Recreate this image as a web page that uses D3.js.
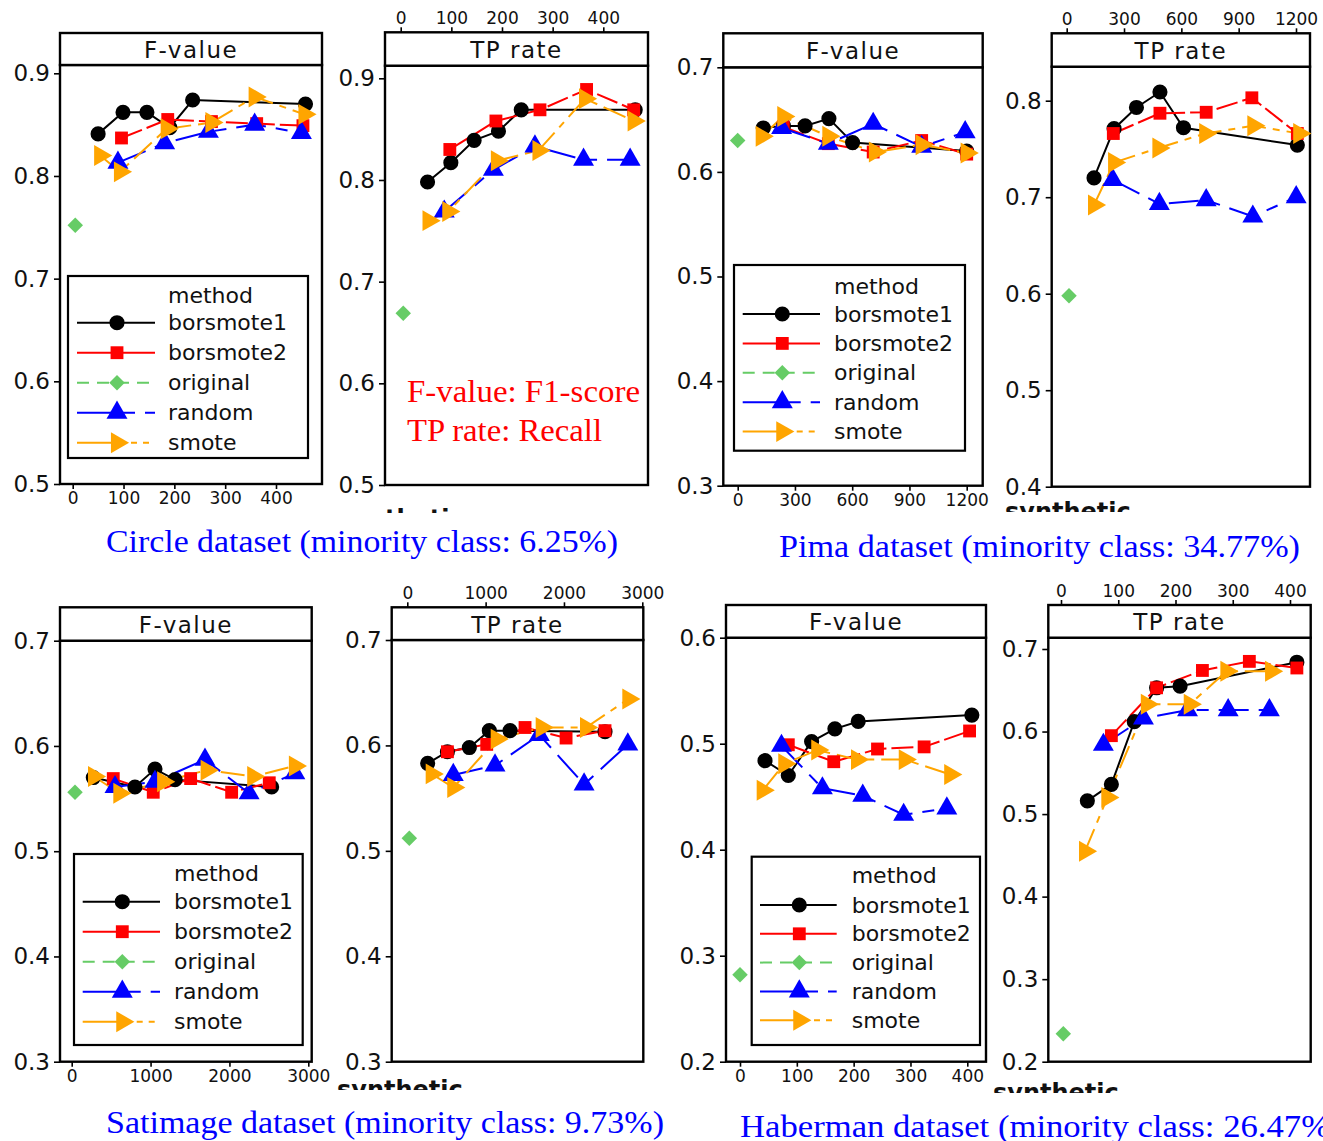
<!DOCTYPE html>
<html>
<head>
<meta charset="utf-8">
<script src="https://cdn.jsdelivr.net/npm/d3@7"></script>
<style>
  body { margin: 0; background: #fff; }
  svg { display: block; }
</style>
</head>
<body>
<div id="chart"></div>
<script>
// methods and colours
const methods = ["borsmote1", "borsmote2", "original", "random", "smote"];
const methodColors = ["#000000", "#ff0000", "#66cc66", "#0000ff", "#ffa500"];
const methodShapes = ["circle", "square", "diamond", "triangle", "right"];

// Circle dataset
const circleF = {
  borsmote1: [[50, 0.841], [99, 0.862], [146, 0.862], [191, 0.847], [236, 0.874], [458, 0.870]],
  borsmote2: [[96, 0.837], [187, 0.855], [273, 0.853], [362, 0.851], [453, 0.849]],
  original:  [[5, 0.752]],
  random:    [[89, 0.813], [181, 0.832], [267, 0.843], [358, 0.850], [450, 0.842]],
  smote:     [[54, 0.820], [93, 0.804], [185, 0.846], [273, 0.852], [358, 0.877], [456, 0.860]]
};
const circleTP = {
  borsmote1: [[53, 0.798], [99, 0.817], [145, 0.839], [193, 0.848], [238, 0.869], [463, 0.869]],
  borsmote2: [[97, 0.830], [188, 0.858], [275, 0.869], [367, 0.889], [460, 0.869]],
  original:  [[5, 0.669]],
  random:    [[86, 0.769], [183, 0.810], [265, 0.833], [361, 0.820], [453, 0.820]],
  smote:     [[55, 0.760], [94, 0.769], [190, 0.819], [272, 0.829], [364, 0.880], [460, 0.858]]
};

// Pima dataset
const pimaF = {
  borsmote1: [[134, 0.642], [240, 0.644], [353, 0.644], [478, 0.651], [602, 0.628], [1200, 0.620]],
  borsmote2: [[239, 0.643], [475, 0.627], [710, 0.619], [964, 0.630], [1200, 0.617]],
  original:  [[0, 0.630]],
  random:    [[230, 0.642], [475, 0.627], [710, 0.646], [964, 0.624], [1192, 0.638]],
  smote:     [[126, 0.634], [239, 0.653], [475, 0.634], [719, 0.619], [964, 0.626], [1200, 0.618]]
};
const pimaTP = {
  borsmote1: [[143, 0.720], [248, 0.771], [365, 0.793], [488, 0.809], [611, 0.772], [1207, 0.754]],
  borsmote2: [[244, 0.766], [488, 0.787], [730, 0.788], [969, 0.803], [1207, 0.766]],
  original:  [[12, 0.598]],
  random:    [[241, 0.718], [485, 0.693], [730, 0.697], [974, 0.680], [1201, 0.700]],
  smote:     [[143, 0.692], [248, 0.736], [480, 0.751], [725, 0.766], [977, 0.774], [1217, 0.766]]
};

// Satimage dataset
const satF = {
  borsmote1: [[274, 0.570], [802, 0.561], [1056, 0.578], [1310, 0.568], [2535, 0.561]],
  borsmote2: [[527, 0.569], [1034, 0.556], [1508, 0.569], [2028, 0.556], [2505, 0.565]],
  original:  [[42, 0.556]],
  random:    [[549, 0.561], [1056, 0.566], [1690, 0.587], [2250, 0.555], [2830, 0.574]],
  smote:     [[283, 0.571], [604, 0.555], [1160, 0.566], [1711, 0.577], [2302, 0.571], [2830, 0.581]]
};
const satTP = {
  borsmote1: [[260, 0.583], [512, 0.594], [792, 0.598], [1047, 0.614], [1312, 0.614], [2524, 0.613]],
  borsmote2: [[512, 0.594], [1014, 0.601], [1503, 0.617], [2027, 0.607], [2524, 0.614]],
  original:  [[26, 0.512]],
  random:    [[587, 0.572], [1120, 0.581], [1686, 0.610], [2257, 0.563], [2815, 0.601]],
  smote:     [[312, 0.573], [587, 0.560], [1142, 0.606], [1716, 0.617], [2282, 0.617], [2822, 0.644]]
};

// Haberman dataset
const habF = {
  borsmote1: [[44, 0.484], [85, 0.470], [126, 0.502], [167, 0.514], [208, 0.521], [408, 0.527]],
  borsmote2: [[85, 0.499], [165, 0.483], [242, 0.495], [324, 0.497], [404, 0.512]],
  original:  [[0, 0.282]],
  random:    [[73, 0.498], [145, 0.458], [216, 0.451], [288, 0.433], [364, 0.439]],
  smote:     [[40, 0.456], [78, 0.481], [136, 0.494], [206, 0.485], [290, 0.485], [370, 0.471]]
};
const habTP = {
  borsmote1: [[46, 0.516], [88, 0.536], [128, 0.612], [167, 0.653], [208, 0.655], [412, 0.684]],
  borsmote2: [[88, 0.595], [167, 0.653], [247, 0.674], [329, 0.685], [412, 0.677]],
  original:  [[4, 0.234]],
  random:    [[74, 0.584], [144, 0.616], [221, 0.626], [292, 0.626], [364, 0.626]],
  smote:     [[42, 0.455], [81, 0.520], [150, 0.633], [225, 0.633], [289, 0.673], [367, 0.673]]
};

// tick labels
const xTicks400 = [0, 100, 200, 300, 400];
const xTicks1200 = [0, 300, 600, 900, 1200];
const xTicks3000 = [0, 1000, 2000, 3000];
const yTicksCircle = [0.5, 0.6, 0.7, 0.8, 0.9];
const yTicksPimaF = [0.3, 0.4, 0.5, 0.6, 0.7];
const yTicksPimaTP = [0.4, 0.5, 0.6, 0.7, 0.8];
const yTicksSat = [0.3, 0.4, 0.5, 0.6, 0.7];
const yTicksHabF = [0.2, 0.3, 0.4, 0.5, 0.6];
const yTicksHabTP = [0.2, 0.3, 0.4, 0.5, 0.6, 0.7];

const captions = [
  "Circle dataset (minority class: 6.25%)",
  "Pima dataset (minority class: 34.77%)",
  "Satimage dataset (minority class: 9.73%)",
  "Haberman dataset (minority class: 26.47%"
];
const notes = ["F-value: F1-score", "TP rate: Recall"];

// line styles
const plotDash = ["", "22,5", "10,8", "30,10,12,10", "24,7,7,7"];
const legendDash = ["", "", "12,8", "36,10,12,10", "36,6,6,6,6,6,6,6"];

// panel layout (pixel positions)
const panels = [
  { data: circleF, label: "F-value", x0: 60, x1: 322, sTop: 33, sBot: 65, bot: 484,
    yTicks: yTicksCircle, yPx: [484, 73.3], xTicks: xTicks400, xPx: [72.7, 276], xTop: false,
    legend: { x0: 68, y0: 276, x1: 308, y1: 458, titleY: 295, rowY: 322.7, step: 30, k0: 77, k1: 155, m: 117, lx: 168 } },
  { data: circleTP, label: "TP rate", x0: 385, x1: 648, sTop: 32.3, sBot: 65.7, bot: 485,
    yTicks: yTicksCircle, yPx: [485, 78.3], xTicks: xTicks400, xPx: [400.7, 603.3], xTop: true },
  { data: pimaF, label: "F-value", x0: 723.3, x1: 982.7, sTop: 33.3, sBot: 67.3, bot: 485.7,
    yTicks: yTicksPimaF, yPx: [485.7, 67.3], xTicks: xTicks1200, xPx: [737.7, 966.7], xTop: false,
    legend: { x0: 734, y0: 265, x1: 965, y1: 450.7, titleY: 286.7, rowY: 314, step: 29.4, k0: 742.7, k1: 820, m: 782.3, lx: 834 } },
  { data: pimaTP, label: "TP rate", x0: 1051.7, x1: 1310, sTop: 33.3, sBot: 66.7, bot: 486.7,
    yTicks: yTicksPimaTP, yPx: [486.7, 100.7], xTicks: xTicks1200, xPx: [1066.7, 1296], xTop: true },
  { data: satF, label: "F-value", x0: 60, x1: 311.7, sTop: 607.3, sBot: 640.7, bot: 1061.7,
    yTicks: yTicksSat, yPx: [1061.7, 640.7], xTicks: xTicks3000, xPx: [71.7, 308.3], xTop: false,
    legend: { x0: 74, y0: 854, x1: 302.7, y1: 1045, titleY: 873.3, rowY: 901.7, step: 30, k0: 82.7, k1: 160, m: 122.3, lx: 174 } },
  { data: satTP, label: "TP rate", x0: 391.7, x1: 643.3, sTop: 607.3, sBot: 640, bot: 1061.7,
    yTicks: yTicksSat, yPx: [1061.7, 640], xTicks: xTicks3000, xPx: [407.3, 642.3], xTop: true },
  { data: habF, label: "F-value", x0: 726, x1: 986, sTop: 605, sBot: 637.7, bot: 1061.7,
    yTicks: yTicksHabF, yPx: [1061.7, 637.7], xTicks: xTicks400, xPx: [740, 967.3], xTop: false,
    legend: { x0: 751.7, y0: 856.7, x1: 980, y1: 1045, titleY: 875, rowY: 905, step: 28.8, k0: 760, k1: 836.7, m: 799.3, lx: 851.7 } },
  { data: habTP, label: "TP rate", x0: 1048.3, x1: 1310.7, sTop: 605, sBot: 637.7, bot: 1061.7,
    yTicks: yTicksHabTP, yPx: [1061.7, 649], xTicks: xTicks400, xPx: [1061, 1290], xTop: true }
];

const FONT = "'DejaVu Sans', Verdana, sans-serif";
const SERIF = "'Liberation Serif', 'DejaVu Serif', serif";

const svg = d3.select("#chart").append("svg")
  .attr("width", 1323)
  .attr("height", 1141);

svg.append("rect").attr("width", 1323).attr("height", 1141).attr("fill", "#fff");

// marker path by shape
function markerPath(shape) {
  if (shape === "circle") return d3.symbol(d3.symbolCircle, 180)();
  if (shape === "square") return d3.symbol(d3.symbolSquare, 165)();
  if (shape === "diamond") return d3.symbol(d3.symbolSquare, 120)();
  return d3.symbol(d3.symbolTriangle, 190)();
}
function markerRotate(shape) {
  if (shape === "diamond") return 45;
  if (shape === "right") return 90;
  return 0;
}

function drawMarker(g, shape, color, cx, cy) {
  g.append("path")
    .attr("d", markerPath(shape))
    .attr("transform", `translate(${cx},${cy}) rotate(${markerRotate(shape)})`)
    .attr("fill", color);
}

function drawPanel(p) {
  const x = d3.scaleLinear().domain([p.xTicks[0], p.xTicks[p.xTicks.length - 1]]).range(p.xPx);
  const y = d3.scaleLinear().domain([p.yTicks[0], p.yTicks[p.yTicks.length - 1]]).range(p.yPx);
  const g = svg.append("g");

  // 축
  const yAxis = d3.axisLeft(y).tickValues(p.yTicks).tickSize(6).tickPadding(4).tickFormat(d3.format(".1f"));
  const ya = g.append("g").attr("transform", `translate(${p.x0},0)`).call(yAxis);
  ya.select(".domain").remove();
  ya.selectAll("line").attr("stroke-width", 1.6);
  ya.selectAll("text").attr("font-family", FONT).attr("font-size", 23).attr("fill", "#111");

  const xAxis = (p.xTop ? d3.axisTop(x) : d3.axisBottom(x))
    .tickValues(p.xTicks).tickSize(5).tickPadding(3).tickFormat(d3.format("d"));
  const xa = g.append("g")
    .attr("transform", `translate(0,${p.xTop ? p.sTop : p.bot})`)
    .call(xAxis);
  xa.select(".domain").remove();
  xa.selectAll("line").attr("stroke-width", 1.6);
  xa.selectAll("text").attr("font-family", FONT).attr("font-size", 17).attr("fill", "#111");

  // 패널 테두리와 스트립
  g.append("rect")
    .attr("x", p.x0).attr("y", p.sBot)
    .attr("width", p.x1 - p.x0).attr("height", p.bot - p.sBot)
    .attr("fill", "none").attr("stroke", "#000").attr("stroke-width", 2.4);
  g.append("rect")
    .attr("x", p.x0).attr("y", p.sTop)
    .attr("width", p.x1 - p.x0).attr("height", p.sBot - p.sTop)
    .attr("fill", "#fff").attr("stroke", "#000").attr("stroke-width", 2.4);
  g.append("text")
    .attr("x", (p.x0 + p.x1) / 2).attr("y", (p.sTop + p.sBot) / 2 + 1)
    .attr("text-anchor", "middle").attr("dominant-baseline", "central")
    .attr("font-family", FONT).attr("font-size", 23).attr("letter-spacing", 1.5)
    .attr("fill", "#111")
    .text(p.label);

  // 선
  const line = d3.line().x(d => x(d[0])).y(d => y(d[1]));
  methods.forEach((m, i) => {
    const pts = p.data[m];
    if (pts.length < 2) return;
    g.append("path")
      .attr("d", line(pts))
      .attr("fill", "none")
      .attr("stroke", methodColors[i])
      .attr("stroke-width", 2)
      .attr("stroke-dasharray", plotDash[i] || null);
  });

  // 점
  methods.forEach((m, i) => {
    p.data[m].forEach(d => drawMarker(g, methodShapes[i], methodColors[i], x(d[0]), y(d[1])));
  });

  // 범례
  if (p.legend) {
    const L = p.legend;
    g.append("rect")
      .attr("x", L.x0).attr("y", L.y0)
      .attr("width", L.x1 - L.x0).attr("height", L.y1 - L.y0)
      .attr("fill", "#fff").attr("stroke", "#000").attr("stroke-width", 2.2);
    g.append("text")
      .attr("x", L.lx).attr("y", L.titleY)
      .attr("dominant-baseline", "central")
      .attr("font-family", FONT).attr("font-size", 22).attr("fill", "#111")
      .text("method");
    methods.forEach((m, i) => {
      const ry = L.rowY + i * L.step;
      g.append("line")
        .attr("x1", L.k0).attr("x2", L.k1).attr("y1", ry).attr("y2", ry)
        .attr("stroke", methodColors[i]).attr("stroke-width", 2)
        .attr("stroke-dasharray", legendDash[i] || null);
      drawMarker(g, methodShapes[i], methodColors[i], L.m, ry);
      g.append("text")
        .attr("x", L.lx).attr("y", ry)
        .attr("dominant-baseline", "central")
        .attr("font-family", FONT).attr("font-size", 22).attr("fill", "#111")
        .text(m);
    });
  }
}

panels.forEach(drawPanel);

// 주석 (빨간 글씨)
const noteWidths = [233, 195];
notes.forEach((t, i) => {
  svg.append("text")
    .attr("x", 407).attr("y", 391 + i * 39)
    .attr("dominant-baseline", "central")
    .attr("font-family", SERIF).attr("font-size", 32).attr("fill", "#ff0000")
    .attr("textLength", noteWidths[i]).attr("lengthAdjust", "spacingAndGlyphs")
    .text(t);
});

// 잘린 "synthetic" 조각
const clipSpots = [
  { x: 338, base: 527, cut: 513 },
  { x: 1005, base: 520, cut: 512 },
  { x: 337, base: 1098, cut: 1090 },
  { x: 993, base: 1101, cut: 1093 }
];
clipSpots.forEach((c, i) => {
  svg.append("clipPath").attr("id", "cut" + i)
    .append("rect").attr("x", c.x - 5).attr("y", c.cut - 30).attr("width", 160).attr("height", 30);
  svg.append("text")
    .attr("clip-path", `url(#cut${i})`)
    .attr("x", c.x).attr("y", c.base)
    .attr("font-family", FONT).attr("font-weight", "bold").attr("font-size", 24).attr("fill", "#111")
    .text("synthetic");
});

// 데이터셋 캡션
const capPos = [[106, 541], [779, 546], [106, 1122], [740, 1126]];
const capWidths = [512, 521, 558, 590];
captions.forEach((t, i) => {
  svg.append("text")
    .attr("x", capPos[i][0]).attr("y", capPos[i][1])
    .attr("dominant-baseline", "central")
    .attr("font-family", SERIF).attr("font-size", 32).attr("fill", "#0000ff")
    .attr("textLength", capWidths[i]).attr("lengthAdjust", "spacingAndGlyphs")
    .text(t);
});
</script>
</body>
</html>
